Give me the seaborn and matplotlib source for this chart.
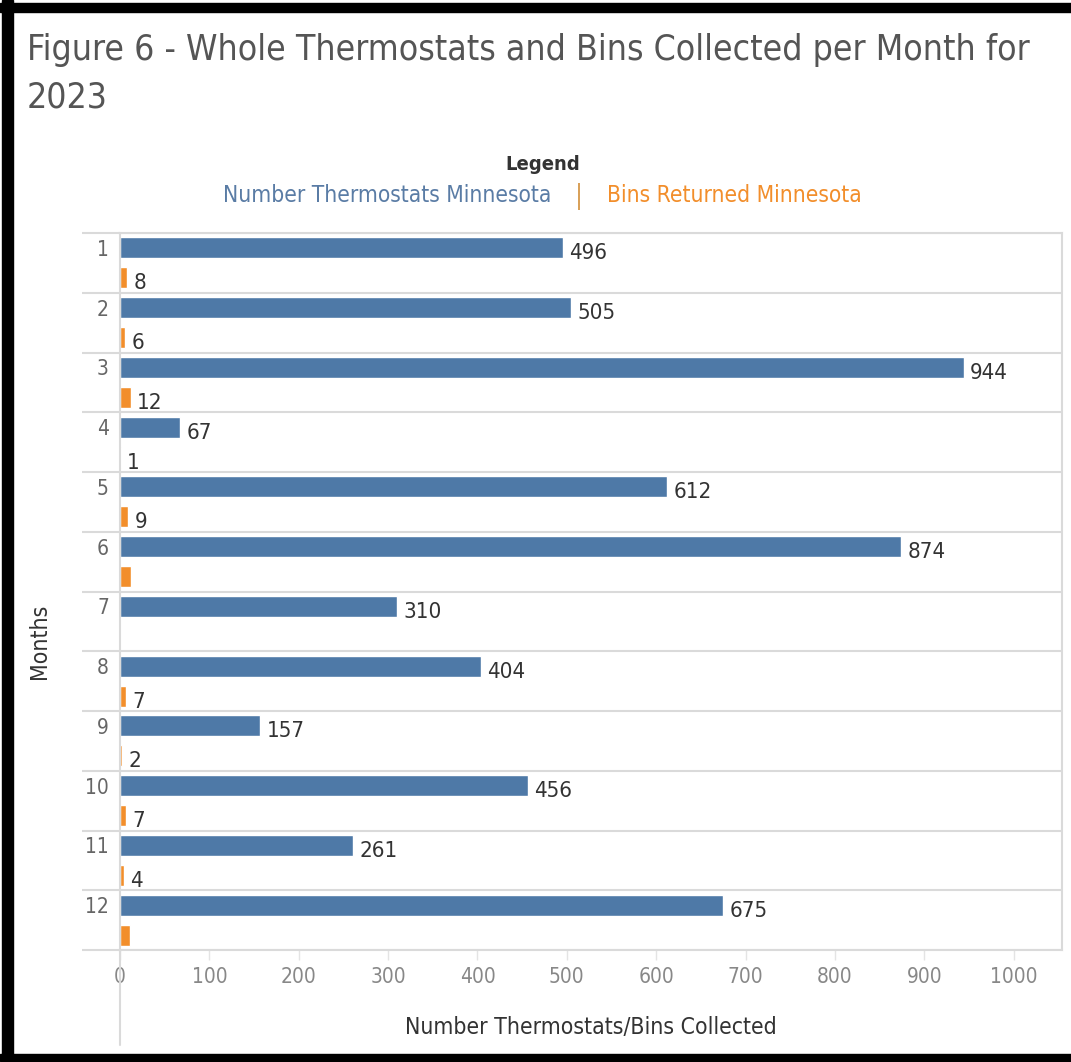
import numpy as np
import pandas as pd
import matplotlib
matplotlib.use("Agg")
import matplotlib.pyplot as plt
import seaborn as sns
from matplotlib.patches import Rectangle
from matplotlib.lines import Line2D

# data
months = [str(m) for m in range(1, 13)]
thermostats = [496, 505, 944, 67, 612, 874, 310, 404, 157, 456, 261, 675]
bins_returned = [8, 6, 12, 1, 9, 12, 0, 7, 2, 7, 4, 11]
bins_label_shown = [True, True, True, True, True, False, False, True, True, True, True, False]
series_names = ["Number Thermostats Minnesota", "Bins Returned Minnesota"]
x_ticks = [0, 100, 200, 300, 400, 500, 600, 700, 800, 900, 1000]

BLUE = "#4e79a7"
ORANGE = "#f28e2b"
GRID = "#dadada"

df = pd.DataFrame({
    "month": months * 2,
    "series": [series_names[0]] * 12 + [series_names[1]] * 12,
    "value": thermostats + bins_returned,
})

sns.set_theme(style="white")
plt.rcParams["font.family"] = ["DejaVu Sans"]
plt.rcParams["font.stretch"] = "condensed"

W, H = 1071, 1062
fig = plt.figure(figsize=(W / 100, H / 100), dpi=100)
ax = fig.add_axes([120 / W, 1 - 950 / H, 942 / W, 717 / H])

sns.barplot(data=df, x="value", y="month", hue="series", orient="h",
            palette=[BLUE, ORANGE], width=1.0, gap=0.3, saturation=1,
            legend=False, ax=ax)

# value labels, sitting a little below the bar centre like the original
label_sets = [
    [str(v) for v in thermostats],
    [str(v) if s else "" for v, s in zip(bins_returned, bins_label_shown)],
]
for cont, labels in zip(ax.containers, label_sets):
    for bar, lab in zip(cont, labels):
        if not lab:
            continue
        ax.annotate(lab, (bar.get_width(), bar.get_y() + bar.get_height() / 2),
                    xytext=(4.5, -4), textcoords="offset points",
                    ha="left", va="center", fontsize=16, color="#333333")

ax.set_xlim(0, 1054)
ax.set_ylim(11.5, -0.5)
ax.set_xticks(x_ticks)
ax.set_xticklabels([str(t) for t in x_ticks])
ax.set_yticks(np.arange(12) - 0.25)
ax.set_yticklabels(months)
ax.set_yticks(np.arange(13) - 0.5, minor=True)

ax.tick_params(axis="y", which="major", length=0, pad=8, labelsize=15, labelcolor="#666666")
ax.tick_params(axis="y", which="minor", length=27.5, width=1.5, color=GRID, left=True)
ax.tick_params(axis="x", which="major", length=7, width=1, color="#e4e4e4",
               bottom=True, pad=5, labelsize=15, labelcolor="#888888")
ax.grid(which="minor", axis="y", color=GRID, linewidth=1.5)
ax.grid(which="major", axis="both", visible=False)

for side in ["top", "bottom", "right", "left"]:
    ax.spines[side].set_color(GRID)
    ax.spines[side].set_linewidth(1.5)

# vertical axis line continues below the plot
ax.add_line(Line2D([0, 0], [0, -(1045 - 950) / 717], transform=ax.get_xaxis_transform(),
                   color=GRID, linewidth=1.5, clip_on=False))

ax.set_xlabel("Number Thermostats/Bins Collected", fontsize=16.5, color="#333333")
ax.xaxis.set_label_coords(0.5, -(1027 - 950) / 717)
ax.xaxis.label.set_va("center")
ax.set_ylabel("Months", fontsize=16.5, color="#333333")
ax.yaxis.set_label_coords((40 - 120) / 942, 1 - (641 - 233) / 717)
ax.yaxis.label.set_va("center")

# title
fig.text(27 / W, 1 - 60 / H, "Figure 6 - Whole Thermostats and Bins Collected per Month for",
         fontsize=25.5, color="#555555", va="baseline", ha="left")
fig.text(27 / W, 1 - 108 / H, "2023", fontsize=25.5, color="#555555", va="baseline", ha="left")

# legend
fig.text(543 / W, 1 - 165 / H, "Legend", fontsize=14.5, fontweight="bold",
         color="#333333", ha="center", va="center")
fig.text(551 / W, 1 - 196 / H, series_names[0], fontsize=16.3, color="#5a7ca5",
         ha="right", va="center")
fig.text(579 / W, 1 - 196 / H, "|", fontsize=19, color="#d9a15a", ha="center", va="center")
fig.text(607 / W, 1 - 196 / H, series_names[1], fontsize=16.3, color=ORANGE,
         ha="left", va="center")

# black frame
fig.patches.append(Rectangle((2 / W, 0), 11 / W, 1, transform=fig.transFigure,
                             color="black", zorder=10))
fig.patches.append(Rectangle((0, 1 - 12 / H), 1, 9 / H, transform=fig.transFigure,
                             color="black", zorder=10))
fig.patches.append(Rectangle((0, 1 - 1061 / H), 1, 7 / H, transform=fig.transFigure,
                             color="black", zorder=10))

fig.savefig("out.png", dpi=100, facecolor="white")
